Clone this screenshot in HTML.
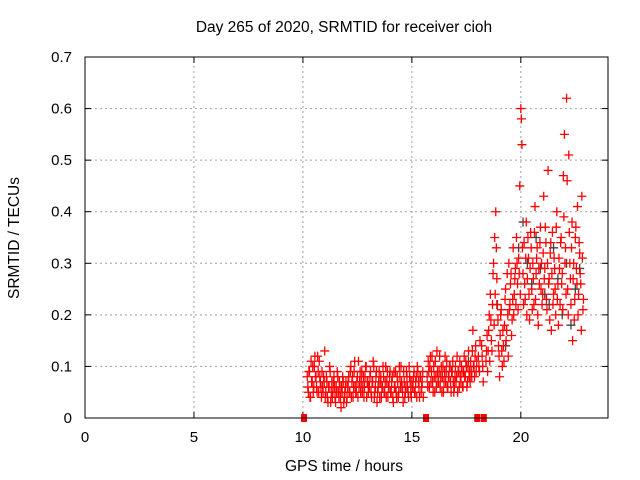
<!DOCTYPE html>
<html><head><meta charset="utf-8"><style>
html,body{margin:0;padding:0;background:#fff;}
svg{display:block;font-family:"Liberation Sans",sans-serif;}
</style></head><body>
<svg id="chart" width="640" height="480" xmlns="http://www.w3.org/2000/svg">
<rect width="640" height="480" fill="#fff"/>
<text x="344" y="32" font-size="15.5" text-anchor="middle" fill="#000">Day 265 of 2020, SRMTID for receiver cioh</text>
<text x="344" y="471" font-size="15.5" text-anchor="middle" fill="#000">GPS time / hours</text>
<text transform="translate(19,238) rotate(-90)" font-size="15.5" text-anchor="middle" fill="#000">SRMTID / TECUs</text>
<g id="grid"></g>
<g id="ticks"></g>
<g id="marks"></g>
<rect x="85" y="57" width="523" height="361" fill="none" stroke="#000" stroke-width="1"/>
</svg>
<script>
const xTicks=[0,5,10,15,20];
const yTicks=[0,0.1,0.2,0.3,0.4,0.5,0.6,0.7];
const yTickLabels=["0","0.1","0.2","0.3","0.4","0.5","0.6","0.7"];
const zeroT=[10.05,15.65,18.0,18.3];
const lowT=[10.2,10.25,10.3,10.35,10.4,10.45,10.5,10.55,10.6,10.65,10.7,10.75,10.8,10.85,10.9,10.95,11.0,11.05,11.1,11.15,11.2,11.25,11.3,11.35,11.4,11.45,11.5,11.55,11.6,11.65,11.7,11.75,11.8,11.85,11.9,11.95,12.0,12.05,12.1,12.15,12.2,12.25,12.3,12.35,12.4,12.45,12.5,12.55,12.6,12.65,12.7,12.75,12.8,12.85,12.9,12.95,13.0,13.05,13.1,13.15,13.2,13.25,13.3,13.35,13.4,13.45,13.5,13.55,13.6,13.65,13.7,13.75,13.8,13.85,13.9,13.95,14.0,14.05,14.1,14.15,14.2,14.25,14.3,14.35,14.4,14.45,14.5,14.55,14.6,14.65,14.7,14.75,14.8,14.85,14.9,14.95,15.0,15.05,15.1,15.15,15.2,15.25,15.3,15.35,15.4,15.45,15.5];
const lowV1=[.08,.05,.09,.04,.07,.10,.06,.12,.08,.05,.09,.11,.07,.04,.06,.08,.13,.05,.07,.03,.06,.09,.05,.04,.07,.06,.03,.05,.08,.04,.06,.02,.05,.07,.04,.06,.03,.06,.08,.05,.10,.07,.04,.09,.06,.05,.08,.11,.07,.05,.09,.06,.04,.08,.10,.07,.05,.06,.09,.04,.07,.10,.05,.08,.03,.06,.09,.07,.04,.06,.08,.05,.10,.07,.04,.06,.09,.05,.08,.03,.06,.09,.04,.07,.05,.08,.10,.06,.03,.07,.05,.09,.06,.04,.08,.05,.07,.06,.09,.05,.08,.10,.07,.04,.08,.06,.09];
const lowV2=[.06,.09,.04,.11,.07,.05,.10,.08,.06,.12,.05,.08,.06,.09,.05,.07,.04,.08,.04,.06,.10,.03,.07,.05,.08,.04,.06,.09,.05,.07,.04,.06,.08,.03,.05,.07,.04,.07,.05,.09,.04,.08,.06,.11,.05,.07,.04,.06,.09,.07,.05,.08,.06,.10,.04,.07,.06,.08,.05,.07,.11,.04,.06,.09,.05,.07,.04,.08,.06,.10,.05,.07,.04,.09,.06,.08,.05,.07,.04,.09,.06,.05,.08,.04,.10,.06,.07,.05,.09,.04,.06,.08,.05,.10,.07,.04,.06,.08,.05,.07,.04,.09,.06,.08,.05,.07,.04];
const midT=[15.7,15.75,15.8,15.85,15.9,15.95,16.0,16.05,16.1,16.15,16.2,16.25,16.3,16.35,16.4,16.45,16.5,16.55,16.6,16.65,16.7,16.75,16.8,16.85,16.9,16.95,17.0,17.05,17.1,17.15,17.2,17.25,17.3,17.35,17.4,17.45,17.5,17.55,17.6,17.65,17.7,17.75,17.8,17.85,17.9,17.95];
const midV1=[.08,.11,.06,.12,.09,.07,.10,.05,.08,.13,.07,.09,.06,.10,.08,.05,.09,.07,.11,.06,.08,.10,.05,.09,.07,.06,.10,.08,.05,.09,.11,.07,.09,.06,.12,.08,.10,.07,.13,.09,.11,.08,.17,.10,.12,.09];
const midV2=[.06,.09,.10,.07,.12,.05,.08,.11,.06,.09,.07,.12,.08,.05,.10,.07,.12,.09,.06,.08,.10,.07,.09,.11,.05,.08,.07,.12,.09,.06,.08,.10,.06,.09,.08,.11,.06,.10,.08,.07,.09,.13,.10,.08,.14,.11];
const hiT=[18.05,18.1,18.2,18.25,18.4,18.45,18.5,18.55,18.6,18.65,18.7,18.75,18.8,18.85,18.9,18.95,19.0,19.05,19.1,19.15,19.2,19.25,19.3,19.35,19.4,19.45,19.5,19.55,19.6,19.65,19.7,19.75,19.8,19.85,19.9,19.95,20.0,20.05,20.1,20.15,20.2,20.25,20.3,20.35,20.4,20.45,20.5,20.55,20.6,20.65,20.7,20.75,20.8,20.85,20.9,20.95,21.0,21.05,21.1,21.15,21.2,21.25,21.3,21.35,21.4,21.45,21.5,21.55,21.6,21.65,21.7,21.75,21.8,21.85,21.9,21.95,22.0,22.05,22.1,22.15,22.2,22.25,22.3,22.35,22.4,22.45,22.5,22.55,22.6,22.65,22.7,22.75,22.8,22.85];
const hiV1=[.12,.09,.14,.10,.11,.16,.13,.20,.24,.15,.22,.30,.35,.40,.27,.19,.12,.16,.21,.10,.14,.18,.25,.17,.20,.30,.22,.28,.19,.33,.24,.29,.35,.26,.31,.45,.60,.53,.28,.34,.23,.38,.27,.31,.19,.36,.25,.30,.22,.41,.28,.33,.18,.26,.37,.30,.24,.43,.29,.34,.21,.48,.27,.32,.17,.36,.24,.29,.20,.40,.26,.31,.22,.35,.28,.47,.55,.33,.62,.25,.51,.30,.22,.38,.27,.19,.35,.29,.41,.24,.32,.26,.43,.21];
const hiV2=[.10,.15,.12,.07,.13,.09,.17,.11,.19,.13,.28,.18,.24,.33,.22,.14,.08,.20,.13,.17,.11,.23,.15,.28,.12,.21,.26,.16,.23,.20,.27,.22,.30,.21,.28,.24,.58,.33,.22,.26,.31,.20,.35,.24,.29,.33,.21,.27,.36,.23,.31,.20,.29,.34,.25,.22,.32,.27,.37,.23,.30,.26,.19,.34,.28,.22,.31,.25,.37,.23,.18,.29,.34,.26,.21,.39,.30,.24,.46,.20,.36,.27,.33,.15,.30,.23,.37,.26,.20,.34,.28,.17,.31,.23];
const grayT=[19.9,20.1,20.3,20.5,20.7,20.9,21.1,21.3,21.5,21.7,21.9,22.1,22.3,22.5,22.7,18.9,19.3,17.6];
const grayV=[.33,.38,.30,.26,.35,.29,.24,.22,.33,.27,.20,.30,.18,.25,.29,.22,.14,.11];

const X0=85,X1=608,Y0=418,Y1=57,XMAX=24,YMAX=0.7;
const sx=t=>X0+t*(X1-X0)/XMAX;
const sy=v=>Y0-v*(Y0-Y1)/YMAX;
const NS="http://www.w3.org/2000/svg";
const grid=document.getElementById('grid'),ticks=document.getElementById('ticks'),marks=document.getElementById('marks');
function mk(tag,attrs,parent){const e=document.createElementNS(NS,tag);for(const k in attrs)e.setAttribute(k,attrs[k]);parent.appendChild(e);return e;}
xTicks.forEach(t=>{
  const x=sx(t);
  if(t>0){const g=mk('line',{x1:x,x2:x,y1:Y0,y2:Y1,stroke:'#a0a0a0','stroke-dasharray':'2,3'},grid);
  
  }
  mk('line',{x1:x,x2:x,y1:Y0,y2:Y0-6,stroke:'#000'},ticks);
  mk('line',{x1:x,x2:x,y1:Y1,y2:Y1+6,stroke:'#000'},ticks);
  const l=mk('text',{x:x,y:Y0+24,'font-size':15,'text-anchor':'middle',fill:'#000'},ticks);l.textContent=String(t);
  
  
});
yTicks.forEach((v,i)=>{
  const y=sy(v);
  if(v>0&&v<YMAX){const g=mk('line',{x1:X0,x2:X1,y1:y,y2:y,stroke:'#a0a0a0','stroke-dasharray':'2,3'},grid);
  
  }
  mk('line',{x1:X0,x2:X0+6,y1:y,y2:y,stroke:'#000'},ticks);
  mk('line',{x1:X1,x2:X1-6,y1:y,y2:y,stroke:'#000'},ticks);
  const l=mk('text',{x:X0-13,y:y+5,'font-size':15,'text-anchor':'end',fill:'#000'},ticks);l.textContent=yTickLabels[i];
  
  
});
function plus(t,v,col,name){
  const x=sx(t),y=sy(v);
  const p=mk('path',{d:`M${x-4.5},${y}H${x+4.5}M${x},${y-4.5}V${y+4.5}`,stroke:col,'stroke-width':1.3,fill:'none'},marks);
  
  
}
grayT.forEach((t,i)=>plus(t,grayV[i],'#404040','gray-point'));
lowT.forEach((t,i)=>{plus(t,lowV1[i],'#ff0000','srmtid-point');plus(t+0.025,lowV2[i],'#ff0000','srmtid-point');});
midT.forEach((t,i)=>{plus(t,midV1[i],'#ff0000','srmtid-point');plus(t+0.025,midV2[i],'#ff0000','srmtid-point');});
hiT.forEach((t,i)=>{plus(t,hiV1[i],'#ff0000','srmtid-point');plus(t+0.025,hiV2[i],'#ff0000','srmtid-point');});
zeroT.forEach(t=>{
  const r=mk('rect',{x:sx(t)-3,y:Y0-4,width:6,height:8,fill:'#ff0000'},marks);
  
  
});
</script>
</body></html>
